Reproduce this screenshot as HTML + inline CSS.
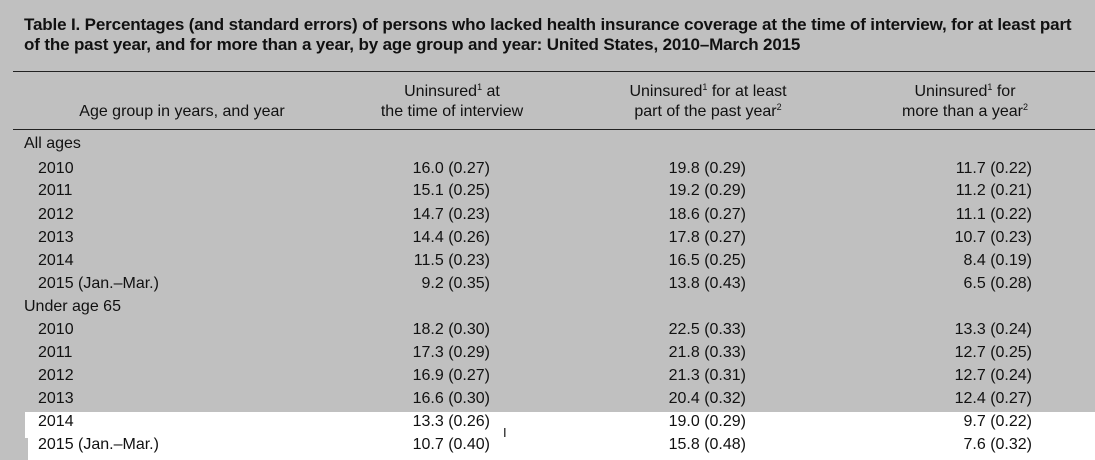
<!DOCTYPE html>
<html><head><meta charset="utf-8"><style>
body{margin:0;width:1095px;height:460px;background:#c0c0c0;position:relative;overflow:hidden;font-family:"Liberation Sans",sans-serif;color:#111}
.t{position:absolute;white-space:nowrap;font-size:16px;line-height:20px}
.title{position:absolute;left:24px;top:15px;font-weight:bold;font-size:17px;line-height:20px;white-space:nowrap;letter-spacing:-0.15px}
.rule{position:absolute;left:13px;right:0;height:1px;background:#222}
.r{text-align:right}
.c{text-align:center}
sup{font-size:9px;vertical-align:6px;line-height:0}
</style></head><body>
<div style="position:absolute;left:25px;top:412px;width:1070px;height:26px;background:#fff"></div>
<div style="position:absolute;left:28px;top:437px;width:1067px;height:23px;background:#fff"></div>
<div class="title">Table I. Percentages (and standard errors) of persons who lacked health insurance coverage at the time of interview, for at least part<br>of the past year, and for more than a year, by age group and year: United States, 2010–March 2015</div>
<div class="rule" style="top:71px"></div>
<div class="rule" style="top:129px"></div>
<div class="t c" style="left:32px;width:300px;top:102px">Age group in years, and year</div>
<div class="t c" style="left:302px;width:300px;top:82px">Uninsured<sup>1</sup> at<br>the time of interview</div>
<div class="t c" style="left:558px;width:300px;top:82px">Uninsured<sup>1</sup> for at least<br>part of the past year<sup>2</sup></div>
<div class="t c" style="left:815px;width:300px;top:82px">Uninsured<sup>1</sup> for<br>more than a year<sup>2</sup></div>
<div id="rows"></div>
<div class="t" style="left:503px;top:423px;font-size:13px">I</div>
<script>
var d=[["All ages",0],["2010","16.0 (0.27)","19.8 (0.29)","11.7 (0.22)"],["2011","15.1 (0.25)","19.2 (0.29)","11.2 (0.21)"],["2012","14.7 (0.23)","18.6 (0.27)","11.1 (0.22)"],["2013","14.4 (0.26)","17.8 (0.27)","10.7 (0.23)"],["2014","11.5 (0.23)","16.5 (0.25)","8.4 (0.19)"],["2015 (Jan.–Mar.)","9.2 (0.35)","13.8 (0.43)","6.5 (0.28)"],["Under age 65",0],["2010","18.2 (0.30)","22.5 (0.33)","13.3 (0.24)"],["2011","17.3 (0.29)","21.8 (0.33)","12.7 (0.25)"],["2012","16.9 (0.27)","21.3 (0.31)","12.7 (0.24)"],["2013","16.6 (0.30)","20.4 (0.32)","12.4 (0.27)"],["2014","13.3 (0.26)","19.0 (0.29)","9.7 (0.22)"],["2015 (Jan.–Mar.)","10.7 (0.40)","15.8 (0.48)","7.6 (0.32)"]];
var ys=[143,168,190,214,237,260,283,306,329,352,375,398,421,444],h="";
d.forEach(function(r,i){var y=ys[i]-9;
if(r[1]===0){h+='<div class="t" style="left:24px;top:'+y+'px">'+r[0]+'</div>';}
else{h+='<div class="t" style="left:38px;top:'+y+'px">'+r[0]+'</div>';
[490,746,1032].forEach(function(x,j){h+='<div class="t r" style="left:'+(x-200)+'px;width:200px;top:'+y+'px">'+r[j+1]+'</div>';});}});
document.getElementById("rows").innerHTML=h;
</script>
</body></html>
